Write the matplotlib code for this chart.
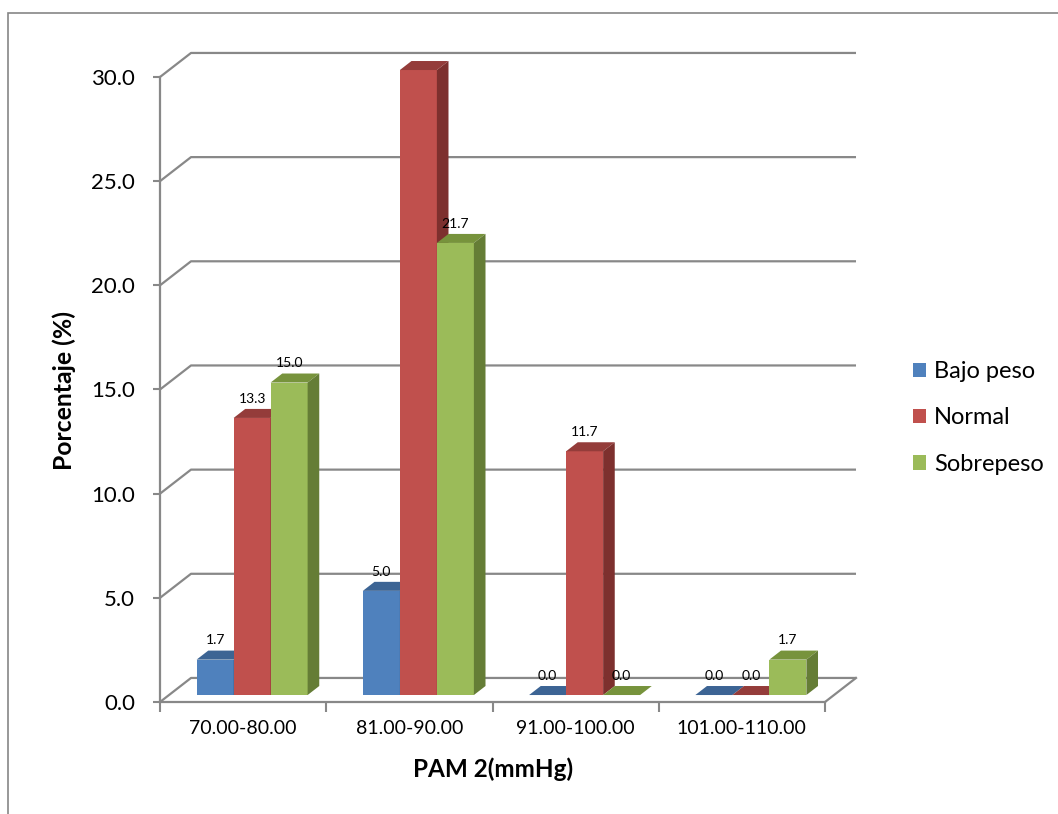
import numpy as np
import matplotlib.pyplot as plt
from matplotlib.patches import Polygon, Rectangle

categories = ['70.00-80.00', '81.00-90.00', '91.00-100.00', '101.00-110.00']
series = ['Bajo peso', 'Normal', 'Sobrepeso']
bajo_peso = [1.7, 5.0, 0.0, 0.0]
normal = [13.3, 30.0, 11.7, 0.0]
sobrepeso = [15.0, 21.7, 0.0, 1.7]
yticks = [0, 5, 10, 15, 20, 25, 30]

front_col = ['#4F81BD', '#C0504D', '#9BBB59']
top_col = ['#3C6494', '#943C3A', '#77933C']
side_col = ['#385D8A', '#7D302E', '#657D36']
grid = '#888888'

plt.rcParams['font.family'] = ['Lato', 'DejaVu Sans']

fig = plt.figure(figsize=(10.58, 8.14), dpi=100)
ax = fig.add_axes([160/1058, 112/814, 665/1058, 625/814])
ax.set_xlim(0, 4)
ax.set_ylim(0, 30)

# fake 3d: depth of the floor in data units
DX, DY = 0.1865, 1.154
f0 = 0.29          # where the bars sit in the depth
w = 0.2226         # bar width
bdx, bdy = 0.375*DX, 0.375*DY

# back wall gridlines + floor
for v in yticks:
    ax.plot([0, DX, 4+DX], [v, v+DY, v+DY], color=grid, lw=1.6,
            clip_on=False, zorder=1, solid_capstyle='butt')
ax.plot([4, 4+DX], [0, DY], color=grid, lw=1.6, clip_on=False, zorder=1)

x = np.arange(len(categories))
b0 = f0*DY
for j, (name, vals) in enumerate(zip(series, [bajo_peso, normal, sobrepeso])):
    left = x + 0.5 - 1.5*w + j*w + f0*DX
    ax.bar(left, vals, width=w, bottom=b0, align='edge', color=front_col[j],
           label=name, zorder=2+j, clip_on=False, linewidth=0)
    for l, h in zip(left, vals):
        t = b0 + h
        ax.add_patch(Polygon([(l, t), (l+w, t), (l+w+bdx, t+bdy), (l+bdx, t+bdy)],
                             closed=True, color=top_col[j], lw=0, zorder=2+j, clip_on=False))
        if h > 0:
            ax.add_patch(Polygon([(l+w, b0), (l+w+bdx, b0+bdy), (l+w+bdx, t+bdy), (l+w, t)],
                                 closed=True, color=side_col[j], lw=0, zorder=2+j, clip_on=False))
        ax.annotate(f'{h:.1f}', xy=(l+w/2, t+bdy), xytext=(0, 3),
                    textcoords='offset points', ha='center', va='bottom',
                    fontsize=10, zorder=10)

for s in ['top', 'right']:
    ax.spines[s].set_visible(False)
for s in ['left', 'bottom']:
    ax.spines[s].set_color(grid)
    ax.spines[s].set_linewidth(1.6)

ax.set_yticks(yticks, labels=[f'{v:.1f}' for v in yticks])
ax.tick_params(axis='y', length=5, width=1.5, color=grid, pad=13, labelsize=16)
ax.set_xticks(range(5), labels=[])
ax.tick_params(axis='x', which='major', length=7, width=1.5, color=grid)
ax.set_xticks(x + 0.5, labels=categories, minor=True)
ax.tick_params(axis='x', which='minor', length=0, pad=13, labelsize=14)
ax.patch.set_visible(False)

fig.legend(loc='center left', bbox_to_anchor=(892/1058, (814-418)/814), frameon=False,
           fontsize=17, handlelength=0.55, handleheight=0.55, handletextpad=0.34,
           labelspacing=1.07)

fig.text(64/1058, (814-390)/814, 'Porcentaje (%)', rotation=90, ha='center', va='center',
         fontweight='bold', fontsize=17.8)
fig.text(493/1058, (814-769)/814, 'PAM 2(mmHg)', ha='center', va='center',
         fontweight='bold', fontsize=17.5)

fig.patches.append(Rectangle((8/1058, -0.05), 1.1, (814-13)/814 + 0.05, transform=fig.transFigure,
                             fill=False, edgecolor='#868686', lw=1.2))

fig.savefig('out.png', dpi=100)
